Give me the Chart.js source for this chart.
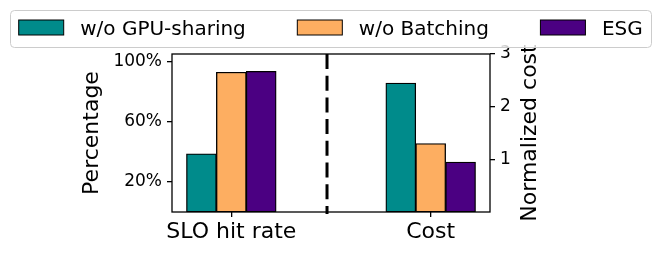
<!DOCTYPE html>
<html>
<head>
<meta charset="utf-8">
<script src="https://cdn.jsdelivr.net/npm/chart.js@4.4.0/dist/chart.umd.min.js"></script>
<style>
  html, body { margin: 0; padding: 0; background: #fff; }
</style>
</head>
<body>
<canvas id="chart" width="664" height="255"></canvas>
<script>
const categories = ['SLO hit rate', 'Cost'];
const seriesNames = ['w/o GPU-sharing', 'w/o Batching', 'ESG'];
const seriesColors = ['#008b8b', '#fdae61', '#4b0082'];
const sloHitRate = [38.7, 92.9, 93.5]; // %, left axis
const normCost = [2.45, 1.30, 0.95];   // right axis
const percentTicks = [20, 60, 100];
const costTicks = [1, 2, 3];

const barWidth = 0.15;
const dividerAt = 0.48;
const FONT = 'DejaVu Sans';

Chart.defaults.font.family = FONT;
Chart.defaults.color = '#000';

// one dataset per series and per axis, placed like matplotlib's x + k*width
const datasets = [];
seriesNames.forEach((name, k) => {
  const off = (k - 1) * barWidth;
  datasets.push({ label: name, yAxisID: 'y', backgroundColor: seriesColors[k],
    data: [{ x: 0 + off, y: sloHitRate[k] }] });
  datasets.push({ label: name, yAxisID: 'y2', backgroundColor: seriesColors[k],
    data: [{ x: 1 + off, y: normCost[k] }] });
});

const extras = {
  id: 'extras',
  afterDatasetsDraw(chart) {
    const { ctx, chartArea: a, scales } = chart;
    ctx.save();
    // divider between the two groups
    const xd = scales.x.getPixelForValue(dividerAt);
    ctx.strokeStyle = '#000';
    ctx.lineWidth = 3;
    ctx.setLineDash([15, 6.7]);
    ctx.beginPath();
    ctx.moveTo(xd, a.top);
    ctx.lineTo(xd, a.bottom + 2);
    ctx.stroke();
    ctx.setLineDash([]);
    // axes frame
    ctx.lineWidth = 1.3;
    ctx.strokeRect(a.left, a.top, a.right - a.left, a.bottom - a.top);
    ctx.restore();
  },
  afterDraw(chart) {
    const { ctx, chartArea: a } = chart;
    const midY = (a.top + a.bottom) / 2;
    ctx.save();
    ctx.fillStyle = '#000';
    ctx.font = '22px "' + FONT + '"';
    ctx.textAlign = 'center';
    ctx.textBaseline = 'alphabetic';
    [['Percentage', 98], ['Normalized cost', 536]].forEach(([t, x]) => {
      ctx.save();
      ctx.translate(x, midY);
      ctx.rotate(-Math.PI / 2);
      ctx.fillText(t, 0, 0);
      ctx.restore();
    });

    // legend
    ctx.font = '20px "' + FONT + '"';
    ctx.beginPath();
    ctx.roundRect(10.5, 10.5, 641, 37, 4);
    ctx.fillStyle = 'rgba(255,255,255,0.8)';
    ctx.fill();
    ctx.strokeStyle = '#cccccc';
    ctx.lineWidth = 1;
    ctx.stroke();
    let x = 18.7;
    ctx.textAlign = 'left';
    seriesNames.forEach((name, k) => {
      ctx.fillStyle = seriesColors[k];
      ctx.fillRect(x, 20, 45, 15);
      ctx.strokeStyle = '#000';
      ctx.strokeRect(x, 20, 45, 15);
      ctx.fillStyle = '#000';
      const tx = x + 61.5;
      ctx.fillText(name, tx, 35);
      x = tx + ctx.measureText(name).width + 51.5;
    });
    ctx.restore();
  }
};

const tickFont = { size: 17, family: FONT };

new Chart(document.getElementById('chart'), {
  type: 'bar',
  data: { datasets },
  options: {
    responsive: false,
    animation: false,
    devicePixelRatio: 1,
    layout: { padding: { top: 54, left: 0, right: 0, bottom: 0 } },
    grouped: false,
    barPercentage: 1,
    categoryPercentage: 1,
    borderColor: '#000',
    borderWidth: 1.3,
    borderSkipped: false,
    plugins: { legend: { display: false }, tooltip: { enabled: false } },
    scales: {
      x: {
        type: 'linear',
        offset: false,
        min: -0.2975,
        max: 1.2975,
        afterBuildTicks: s => { s.ticks = categories.map((c, i) => ({ value: i })); },
        afterFit: s => { s.height = 43; },
        ticks: {
          callback: (v, i) => categories[i],
          font: { size: 22, family: FONT },
          padding: 2,
          maxRotation: 0,
          autoSkip: false
        },
        grid: { offset: false, drawOnChartArea: false, tickLength: 5, color: '#000', lineWidth: 1.3 },
        border: { display: false }
      },
      y: {
        position: 'left',
        min: 0,
        max: 105,
        afterBuildTicks: s => { s.ticks = percentTicks.map(v => ({ value: v })); },
        afterFit: s => { s.width = 172; },
        ticks: { callback: v => v + '%', font: tickFont, padding: 5 },
        grid: { drawOnChartArea: false, tickLength: 5, color: '#000', lineWidth: 1.3 },
        border: { display: false }
      },
      y2: {
        position: 'right',
        min: 0,
        max: 3,
        afterBuildTicks: s => { s.ticks = costTicks.map(v => ({ value: v })); },
        afterFit: s => { s.width = 174; },
        ticks: { font: tickFont, padding: 5 },
        grid: { drawOnChartArea: false, tickLength: 5, color: '#000', lineWidth: 1.3 },
        border: { display: false }
      }
    }
  },
  plugins: [extras]
});
</script>
</body>
</html>
